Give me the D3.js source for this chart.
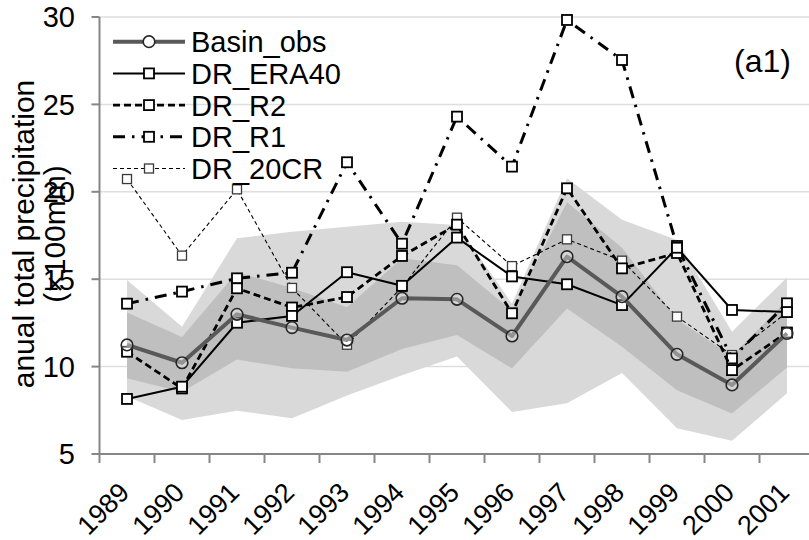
<!DOCTYPE html>
<html>
<head>
<meta charset="utf-8">
<script src="https://cdn.jsdelivr.net/npm/d3@7"></script>
<style>
  html, body { margin: 0; padding: 0; background: #ffffff; }
  svg { display: block; font-family: "Liberation Sans", Arial, sans-serif; }
</style>
</head>
<body>
<svg id="chart" width="809" height="540"></svg>
<script>
// Annual total precipitation (x100 mm), 1989-2001
const years = ["1989","1990","1991","1992","1993","1994","1995","1996","1997","1998","1999","2000","2001"];

const basinObs = [11.24, 10.22, 12.99, 12.23, 11.52, 13.91, 13.85, 11.75, 16.29, 14.00, 10.70, 8.95, 11.90];
const drERA40  = [8.15, 8.85, 12.51, 12.90, 15.40, 14.62, 17.38, 15.16, 14.71, 13.52, 16.80, 13.24, 13.12];
const drR2     = [10.85, 8.75, 14.48, 13.38, 13.98, 16.33, 18.12, 13.05, 20.20, 15.62, 16.50, 9.80, 11.95];
const drR1     = [13.60, 14.29, 15.05, 15.37, 21.69, 17.03, 24.30, 21.44, 29.83, 27.54, 16.90, 10.47, 13.62];
const dr20CR   = [20.73, 16.35, 20.14, 14.50, 11.25, 14.55, 18.52, 15.75, 17.28, 16.06, 12.86, 10.66, 13.10];

// Spread envelopes (outer and inner ranges)
const outerUpper = [14.95, 12.28, 17.34, 17.72, 18.00, 18.29, 18.10, 13.60, 20.77, 18.40, 17.24, 12.00, 15.10];
const outerLower = [8.30, 6.95, 7.48, 7.04, 8.35, 9.50, 10.58, 7.40, 7.90, 9.64, 6.48, 5.76, 8.47];
const innerUpper = [13.10, 11.70, 15.40, 14.50, 13.40, 16.20, 15.80, 13.20, 19.40, 16.80, 12.70, 10.60, 13.80];
const innerLower = [9.33, 8.55, 10.40, 9.90, 9.71, 11.00, 11.81, 9.90, 13.33, 11.14, 8.64, 7.31, 9.95];

const yTicks = [5, 10, 15, 20, 25, 30];

const series = [
  { name: "Basin_obs", values: basinObs, color: "#595959", width: 4,   dash: null,          marker: "circle" },
  { name: "DR_ERA40",  values: drERA40,  color: "#000000", width: 2,   dash: null,          marker: "square" },
  { name: "DR_R2",     values: drR2,     color: "#000000", width: 2.8, dash: "7,4",         marker: "square" },
  { name: "DR_R1",     values: drR1,     color: "#000000", width: 3,   dash: "12,7,2.5,7",  marker: "square" },
  { name: "DR_20CR",   values: dr20CR,   color: "#000000", width: 1.1, dash: "4,3",         marker: "square-thin" }
];

const svg = d3.select("#chart");
const plotLeft = 99.5, plotTop = 17, plotBottom = 454;
const bandW = 55;

const x = d3.scaleBand().domain(years).range([plotLeft, plotLeft + bandW * years.length]).padding(0);
const cx = d => x(d) + x.bandwidth() / 2;
const y = d3.scaleLinear().domain([5, 30]).range([plotBottom, plotTop]);

// horizontal gridlines
svg.append("g").selectAll("line")
  .data(yTicks.filter(t => t > 5))
  .join("line")
  .attr("x1", plotLeft).attr("x2", 809)
  .attr("y1", d => y(d)).attr("y2", d => y(d))
  .attr("stroke", "#dedede").attr("stroke-width", 1.5);

// envelopes
const area = (up, lo) => d3.area()
  .x((d, i) => cx(years[i]))
  .y0((d, i) => y(lo[i]))
  .y1((d, i) => y(up[i]))(years);

svg.append("path").attr("d", area(outerUpper, outerLower)).attr("fill", "#d9d9d9");
svg.append("path").attr("d", area(innerUpper, innerLower)).attr("fill", "#bfbfbf");

// axes
const axisColor = "#868686";
svg.append("line").attr("x1", plotLeft).attr("x2", plotLeft).attr("y1", plotTop).attr("y2", plotBottom + 1)
  .attr("stroke", axisColor).attr("stroke-width", 2);
svg.append("line").attr("x1", plotLeft - 1).attr("x2", 809).attr("y1", plotBottom).attr("y2", plotBottom)
  .attr("stroke", axisColor).attr("stroke-width", 2);

// y ticks and labels
const yg = svg.append("g");
yg.selectAll("line").data(yTicks).join("line")
  .attr("x1", plotLeft - 8).attr("x2", plotLeft).attr("y1", d => y(d)).attr("y2", d => y(d))
  .attr("stroke", axisColor).attr("stroke-width", 2);
yg.selectAll("text").data(yTicks).join("text")
  .attr("x", 75).attr("y", d => y(d)).attr("dy", "0.36em")
  .attr("text-anchor", "end").attr("font-size", 29).attr("fill", "#000")
  .text(d => d);

// x ticks at category boundaries
const xBounds = years.map(d => x(d)).concat([x(years[years.length - 1]) + x.bandwidth()]);
svg.append("g").selectAll("line").data(xBounds).join("line")
  .attr("x1", d => d).attr("x2", d => d).attr("y1", plotBottom).attr("y2", plotBottom + 9)
  .attr("stroke", axisColor).attr("stroke-width", 2);

// x labels, rotated
svg.append("g").selectAll("text").data(years).join("text")
  .attr("transform", d => `translate(${cx(d) + 4},${plotBottom + 40}) rotate(-45)`)
  .attr("text-anchor", "end").attr("font-size", 27).attr("fill", "#000")
  .text(d => d);

// y axis title
const yt = svg.append("text")
  .attr("transform", "translate(34,234) rotate(-90)")
  .attr("text-anchor", "middle").attr("font-size", 30).attr("fill", "#000");
yt.append("tspan").attr("x", 0).attr("y", 0).text("anual total precipitation");
yt.append("tspan").attr("x", 0).attr("y", 31).text("(×100mm)");

// markers
function drawMarker(g, kind, px, py) {
  if (kind === "circle") {
    g.append("circle").attr("cx", px).attr("cy", py).attr("r", 5.8)
      .attr("fill", "#ffffff").attr("fill-opacity", 0.35)
      .attr("stroke", "#262626").attr("stroke-width", 1.6);
  } else if (kind === "square") {
    g.append("rect").attr("x", px - 5).attr("y", py - 5).attr("width", 10).attr("height", 10)
      .attr("fill", "#ffffff").attr("stroke", "#000").attr("stroke-width", 1.8);
  } else {
    g.append("rect").attr("x", px - 4.5).attr("y", py - 4.5).attr("width", 9).attr("height", 9)
      .attr("fill", "#ffffff").attr("stroke", "#3a3a3a").attr("stroke-width", 1.3);
  }
}

const line = d3.line().x((d, i) => cx(years[i])).y(d => y(d));

// draw series back to front so the observations sit under the model lines
[4, 3, 2, 1, 0].forEach(k => {
  const s = series[k];
  const g = svg.append("g");
  g.append("path").attr("d", line(s.values))
    .attr("fill", "none").attr("stroke", s.color).attr("stroke-width", s.width)
    .attr("stroke-dasharray", s.dash).attr("stroke-linejoin", "round");
  s.values.forEach((v, i) => drawMarker(g, s.marker, cx(years[i]), y(v)));
});

// legend
const lg = svg.append("g");
series.forEach((s, i) => {
  const ly = 41.7 + i * 31.7;
  lg.append("line").attr("x1", 113).attr("x2", 185).attr("y1", ly).attr("y2", ly)
    .attr("stroke", s.color).attr("stroke-width", s.width).attr("stroke-dasharray", s.dash);
  if (s.marker === "circle") {
    lg.append("circle").attr("cx", 149).attr("cy", ly).attr("r", 5.8)
      .attr("fill", "#fff").attr("stroke", "#262626").attr("stroke-width", 1.6);
  } else {
    drawMarker(lg, s.marker, 149, ly);
  }
  lg.append("text").attr("x", 191).attr("y", ly).attr("dy", "0.36em")
    .attr("font-size", 29).attr("fill", "#000").text(s.name);
});

// panel tag
svg.append("text").attr("x", 734).attr("y", 72).attr("font-size", 32).attr("fill", "#000").text("(a1)");
</script>
</body>
</html>
